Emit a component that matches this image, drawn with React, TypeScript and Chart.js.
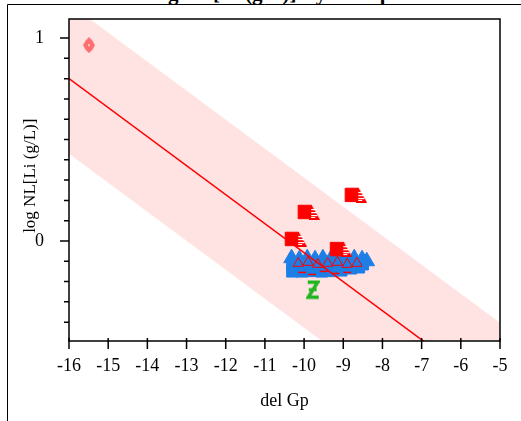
import React, { useEffect, useRef } from 'react';
import { Chart, registerables } from 'chart.js';

Chart.register(...registerables);

// ---- data ----
const xTicks = [-16, -15, -14, -13, -12, -11, -10, -9, -8, -7, -6, -5];
const yMajorTicks = [0, 1];
const yMinorTicks = [-0.4, -0.3, -0.2, -0.1, 0.1, 0.2, 0.3, 0.4, 0.5, 0.6, 0.7, 0.8, 0.9];

const fitX = [-16, -5];
const fitY = [0.8, -0.773];
const bandUpperY = [1.17, -0.403];
const bandLowerY = [0.43, -1.143];

const pinkX = [-15.49];
const pinkY = [0.965];

const redSquareX = [-8.78, -9.98, -10.31, -9.16];
const redSquareY = [0.227, 0.143, 0.01, -0.04];
const redTriX = [-8.53, -9.73, -10.06, -8.91];
const redTriY = [0.222, 0.138, 0.005, -0.045];

const blueTriX = [-10.32, -10.12, -9.92, -9.72, -9.52, -9.32, -9.12, -8.92, -8.72, -8.52, -8.4];
const blueTriY = [-0.085, -0.09, -0.085, -0.09, -0.085, -0.09, -0.085, -0.09, -0.085, -0.09, -0.1];
const blueRectX = [-10.3, -10.05, -9.8, -9.55, -9.3, -9.05, -8.8, -8.6];
const blueRectY = [-0.15, -0.15, -0.148, -0.15, -0.148, -0.145, -0.135, -0.13];
const blueMidX = [-10.3, -10.0, -9.7, -9.4, -9.1, -8.8, -8.5];
const blueMidY = [-0.12, -0.12, -0.12, -0.12, -0.12, -0.12, -0.115];

const redOverX = [-10.15, -9.9, -9.65, -9.4, -9.15, -8.9, -8.65];
const redOverY = [-0.11, -0.105, -0.115, -0.11, -0.105, -0.115, -0.11];
const redDashX = [-10.05, -9.8, -9.5, -9.2, -8.9];
const redDashY = [-0.155, -0.165, -0.15, -0.16, -0.155];

const greenX = [-9.78];
const greenY = [-0.24];

const xMin = -16;
const xMax = -5;
const yMin = -0.493;
const yMax = 1.094;

const FONT = "'Liberation Serif', 'Times New Roman', serif";
const BLUE = '#1d7fe6';

function pts(xs: number[], ys: number[]) {
  return xs.map((x, i) => ({ x, y: ys[i] }));
}

function makeZ(): HTMLCanvasElement {
  const c = document.createElement('canvas');
  c.width = 14;
  c.height = 20;
  const g = c.getContext('2d')!;
  g.strokeStyle = '#1fb51f';
  g.lineWidth = 3.5;
  g.lineJoin = 'miter';
  g.beginPath();
  g.moveTo(2, 2.5);
  g.lineTo(12, 2.5);
  g.lineTo(2.5, 17.5);
  g.lineTo(13, 17.5);
  g.stroke();
  g.lineWidth = 3;
  g.beginPath();
  g.moveTo(3, 10);
  g.lineTo(11, 10);
  g.stroke();
  return c;
}

function makePink(): HTMLCanvasElement {
  const c = document.createElement('canvas');
  c.width = 14;
  c.height = 16;
  const g = c.getContext('2d')!;
  g.fillStyle = '#ff6f6f';
  g.beginPath();
  g.moveTo(7, 0);
  g.lineTo(10.5, 3.5);
  g.lineTo(13, 8);
  g.lineTo(10.5, 12.5);
  g.lineTo(7, 16);
  g.lineTo(3.5, 12.5);
  g.lineTo(1, 8);
  g.lineTo(3.5, 3.5);
  g.closePath();
  g.fill();
  g.fillStyle = '#ffc8c8';
  g.fillRect(6, 7, 2, 2);
  return c;
}

function makeStripedTri(): HTMLCanvasElement {
  const c = document.createElement('canvas');
  c.width = 11;
  c.height = 14;
  const g = c.getContext('2d')!;
  g.fillStyle = '#ff0000';
  g.beginPath();
  g.moveTo(0, 0);
  g.lineTo(3, 0);
  g.lineTo(11, 14);
  g.lineTo(0, 14);
  g.closePath();
  g.fill();
  g.fillStyle = '#ffffff';
  [3, 6, 9].forEach((yy) => {
    g.fillRect(2, yy, 6, 1.2);
  });
  g.fillRect(2, 11, 4, 1);
  return c;
}

const framePlugin = {
  id: 'frameTicks',
  afterDraw(chart: any) {
    const { ctx, chartArea, scales } = chart;
    const { left, right, top, bottom } = chartArea;
    const x = scales.x;
    const y = scales.y;
    ctx.save();
    ctx.strokeStyle = '#000';
    ctx.lineWidth = 1.5;
    ctx.strokeRect(left, top, right - left, bottom - top);
    ctx.beginPath();
    xTicks.forEach((v) => {
      const px = x.getPixelForValue(v);
      ctx.moveTo(px, bottom - 3);
      ctx.lineTo(px, bottom + 8);
    });
    yMajorTicks.forEach((v) => {
      const py = y.getPixelForValue(v);
      ctx.moveTo(left - 9, py);
      ctx.lineTo(left, py);
    });
    yMinorTicks.forEach((v) => {
      const py = y.getPixelForValue(v);
      ctx.moveTo(left - 5, py);
      ctx.lineTo(left, py);
    });
    ctx.stroke();
    ctx.lineWidth = 1;
    ctx.beginPath();
    ctx.moveTo(7.5, 421);
    ctx.lineTo(7.5, 4.5);
    ctx.lineTo(521, 4.5);
    ctx.stroke();
    ctx.restore();
  },
};

const zeroPad = (s: any) => {
  s.paddingTop = 0;
  s.paddingBottom = 0;
  s.paddingLeft = 0;
  s.paddingRight = 0;
};

export default function App() {
  const ref = useRef<HTMLCanvasElement>(null);

  useEffect(() => {
    const canvas = ref.current;
    if (!canvas) return;
    const zImg = makeZ();
    const pinkImg = makePink();
    const triImg = makeStripedTri();
    const chart = new Chart(canvas, {
      type: 'scatter',
      data: {
        datasets: [
          {
            type: 'line',
            order: 20,
            data: pts(fitX, bandUpperY),
            borderWidth: 0,
            borderColor: 'rgba(0,0,0,0)',
            pointRadius: 0,
            backgroundColor: '#ffe3e3',
            fill: '+1',
          } as any,
          {
            type: 'line',
            order: 19,
            data: pts(fitX, bandLowerY),
            borderWidth: 0,
            borderColor: 'rgba(0,0,0,0)',
            pointRadius: 0,
            fill: false,
          } as any,
          {
            order: 18,
            data: pts(blueRectX, blueRectY),
            pointStyle: 'rect',
            pointRadius: 8,
            backgroundColor: BLUE,
            borderColor: BLUE,
            borderWidth: 1,
          },
          {
            order: 17,
            data: pts(blueMidX, blueMidY),
            pointStyle: 'rect',
            pointRadius: 8,
            backgroundColor: BLUE,
            borderColor: BLUE,
            borderWidth: 1,
          },
          {
            order: 16,
            data: pts(blueTriX, blueTriY),
            pointStyle: 'triangle',
            pointRadius: 9,
            backgroundColor: BLUE,
            borderColor: BLUE,
            borderWidth: 1,
          },
          {
            order: 15,
            data: pts(redOverX, redOverY),
            pointStyle: 'triangle',
            pointRadius: 6,
            backgroundColor: 'rgba(0,0,0,0)',
            borderColor: '#ff0000',
            borderWidth: 1,
          },
          {
            order: 14,
            data: pts(redDashX, redDashY),
            pointStyle: 'line',
            pointRadius: 4,
            borderColor: '#ff0000',
            borderWidth: 1.5,
          },
          {
            type: 'line',
            order: 13,
            data: pts(fitX, fitY),
            borderColor: '#ff0000',
            borderWidth: 1.5,
            pointRadius: 0,
            fill: false,
          } as any,
          {
            order: 12,
            data: pts(redSquareX, redSquareY),
            pointStyle: 'rect',
            pointRadius: 9.5,
            backgroundColor: '#ff0000',
            borderColor: '#ff0000',
            borderWidth: 1,
          },
          {
            order: 11,
            data: pts(redTriX, redTriY),
            pointStyle: triImg as any,
            pointRadius: 7,
          },
          {
            order: 10,
            data: pts(greenX, greenY),
            pointStyle: zImg as any,
            pointRadius: 8,
          },
          {
            order: 9,
            data: pts(pinkX, pinkY),
            pointStyle: pinkImg as any,
            pointRadius: 8,
          },
        ],
      },
      options: {
        responsive: false,
        animation: false,
        events: [],
        layout: { padding: { left: 0, top: 19, right: 21, bottom: 0 } },
        plugins: {
          legend: { display: false },
          tooltip: { enabled: false },
          title: { display: false },
        },
        scales: {
          x: {
            type: 'linear',
            min: xMin,
            max: xMax,
            grid: { display: false, drawTicks: false },
            border: { display: false },
            afterBuildTicks: (s: any) => {
              s.ticks = xTicks.map((v) => ({ value: v }));
            },
            afterFit: (s: any) => {
              s.height = 80;
              zeroPad(s);
            },
            ticks: {
              padding: 14,
              color: '#000',
              font: { family: FONT, size: 18 },
              callback: (v: any) => String(v),
              maxRotation: 0,
              autoSkip: false,
            },
            title: {
              display: true,
              text: 'del Gp',
              color: '#000',
              font: { family: FONT, size: 18 },
              padding: { top: 0, bottom: 9 },
            },
          },
          y: {
            type: 'linear',
            min: yMin,
            max: yMax,
            grid: { display: false, drawTicks: false },
            border: { display: false },
            afterBuildTicks: (s: any) => {
              s.ticks = yMajorTicks.map((v) => ({ value: v }));
            },
            afterFit: (s: any) => {
              s.width = 69;
              zeroPad(s);
            },
            ticks: {
              padding: 25,
              color: '#000',
              font: { family: FONT, size: 18 },
              callback: (v: any) => String(v),
            },
            title: {
              display: true,
              text: '\u2002log NL[Li (g/L)]',
              color: '#000',
              font: { family: FONT, size: 17 },
              padding: { top: 20, bottom: 0 },
            },
          },
        },
      },
      plugins: [framePlugin],
    });
    return () => chart.destroy();
  }, []);

  return (
    <div style={{ position: 'fixed', left: 0, top: 0, width: 521, height: 421, overflow: 'hidden', background: '#fff' }}>
      <div
        style={{
          position: 'absolute',
          left: 10,
          top: -17,
          whiteSpace: 'nowrap',
          font: `bold 21px ${FONT}`,
          lineHeight: '20px',
          color: '#000',
        }}
      >
        Bivariate Fit of log NL[Li (g/L)] By del Gp
      </div>
      <canvas ref={ref} width={521} height={421} style={{ position: 'absolute', left: 0, top: 0 }} />
    </div>
  );
}
